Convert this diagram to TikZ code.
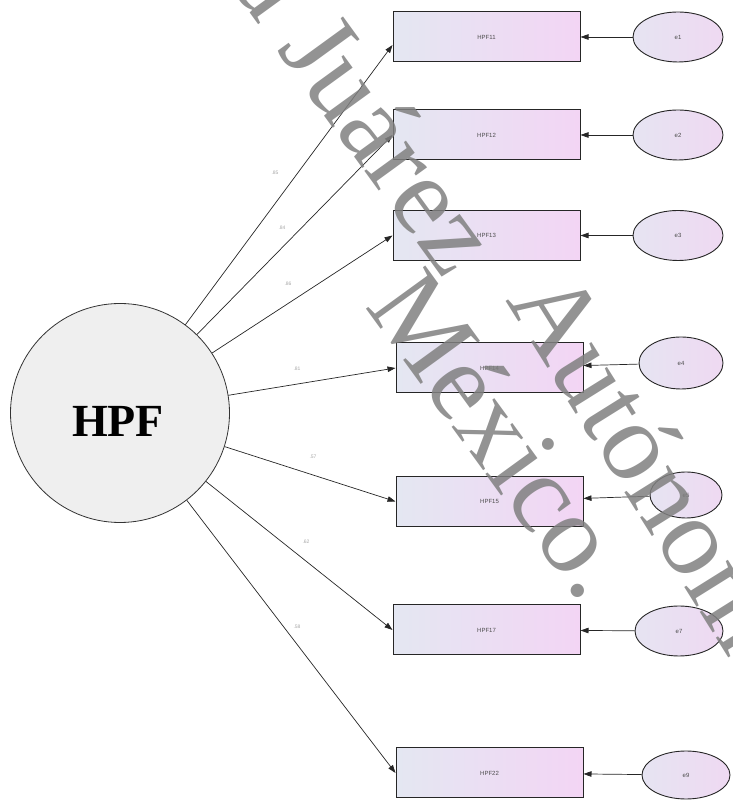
\documentclass[tikz,border=0pt]{standalone}
\usepackage{fontspec}
\setmainfont{Liberation Serif}
\newfontfamily\labelfont{Liberation Sans}
\usetikzlibrary{arrows.meta,shapes.geometric}

\definecolor{boxleft}{HTML}{E4E7F2}
\definecolor{boxright}{HTML}{F3D5F4}
\definecolor{errleft}{HTML}{E6E4F2}
\definecolor{errright}{HTML}{EFD9F2}
\definecolor{factorfill}{HTML}{EFEFEF}

\begin{document}
\begin{tikzpicture}[x=1pt,y=1pt,
  indicator/.style={draw=black!85, line width=1pt, minimum width=187pt,
    minimum height=50pt, inner sep=0pt, left color=boxleft, right color=boxright,
    font=\labelfont\fontsize{6}{7}\selectfont, text=black!70},
  errvar/.style={ellipse, draw=black!85, line width=0.9pt, inner sep=0pt,
    left color=errleft, right color=errright,
    font=\labelfont\fontsize{6}{7}\selectfont, text=black!70},
  loading/.style={draw=black!85, line width=0.7pt,
    -{Triangle[length=8pt,width=5.5pt]}},
  coef/.style={font=\labelfont\fontsize{5}{6}\selectfont, text=black!35},
  watermark/.style={font=\fontsize{112}{120}\selectfont, text=black!50,
    opacity=0.85, inner sep=0pt, rotate=-54}
]
\useasboundingbox (0,0) rectangle (733,800);

% latent factor
\node[circle, draw=black!80, line width=0.8pt, fill=factorfill,
  minimum size=219pt, inner sep=0pt] (f) at (120,387) {};
\node[font=\bfseries\fontsize{46}{50}\selectfont] (ftext) at (118,379) {HPF};

% observed indicators
\node[indicator] (b11) at (486.5,763)  {HPF11};
\node[indicator] (b12) at (486.5,665)  {HPF12};
\node[indicator] (b13) at (486.5,564.5){HPF13};
\node[indicator] (b14) at (489.5,432)  {HPF14};
\node[indicator] (b15) at (489.5,298.5){HPF15};
\node[indicator] (b17) at (486.5,170)  {HPF17};
\node[indicator] (b22) at (489.5,27)   {HPF22};

% error terms
\node[errvar, minimum width=90pt, minimum height=50pt] (e1) at (678,763)   {e1};
\node[errvar, minimum width=90pt, minimum height=50pt] (e2) at (678,665)   {e2};
\node[errvar, minimum width=90pt, minimum height=50pt] (e3) at (678,564.5) {e3};
\node[errvar, minimum width=84pt, minimum height=52pt] (e4) at (681,437)   {e4};
\node[errvar, minimum width=72pt, minimum height=46pt] (e5) at (686,305)   {e5};
\node[errvar, minimum width=88pt, minimum height=50pt] (e7) at (679,169)   {e7};
\node[errvar, minimum width=88pt, minimum height=48pt] (e9) at (686,25)    {e9};

% factor loadings
\draw[loading] (f) -- ([yshift=-8pt]b11.west);
\draw[loading] (f) -- (b12.west);
\draw[loading] (f) -- (b13.west);
\draw[loading] (f) -- (b14.west);
\draw[loading] (f) -- (b15.west);
\draw[loading] (f) -- (b17.west);
\draw[loading] (f) -- (b22.west);

% error paths
\draw[loading] (e1) -- (b11);
\draw[loading] (e2) -- (b12);
\draw[loading] (e3) -- (b13);
\draw[loading] (e4) -- (b14);
\draw[loading] (e5) -- (b15);
\draw[loading] (e7) -- (b17);
\draw[loading] (e9) -- (b22);

% standardized coefficients
\node[coef] (c11) at (275,627) {.85};
\node[coef] (c12) at (282,572) {.84};
\node[coef] (c13) at (288,516) {.86};
\node[coef] (c14) at (297,431) {.81};
\node[coef] (c15) at (313,343) {.57};
\node[coef] (c17) at (306,258) {.62};
\node[coef] (c22) at (297,173) {.58};

% institutional watermark
\begin{scope}
\clip (0,0) rectangle (733,800);
\node[watermark, anchor=base east] (w0) at (259.5,773.7) {Universidad};
\node[watermark, anchor=base west] (w1) at (276,751) {Juárez};
\node[watermark, anchor=base west, rotate=-4] (w2) at (505,500) {Autónoma de Tabasco};
\node[watermark, anchor=base west] (w3) at (364,494) {México.};
\end{scope}
\end{tikzpicture}
\end{document}
